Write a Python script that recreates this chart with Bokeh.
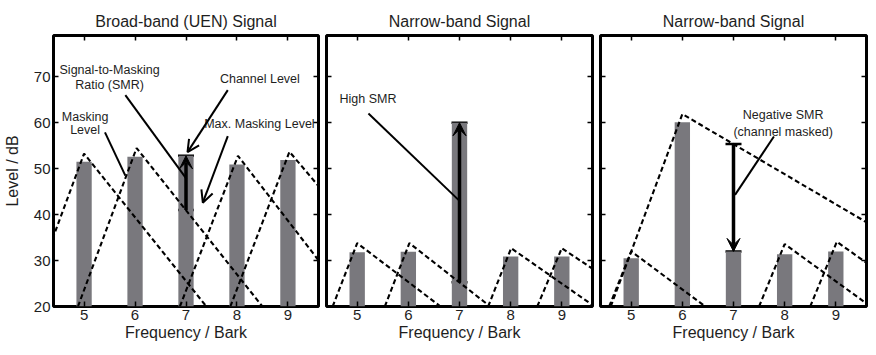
from bokeh.plotting import figure
from bokeh.layouts import row
from bokeh.models import (LinearAxis, FixedTicker, Range1d, ColumnDataSource,
                          Arrow, OpenHead, VeeHead, Whisker, TeeHead)
from bokeh.core.properties import value
from bokeh.embed import file_html
from bokeh.resources import INLINE

FONT = "Liberation Sans"
BAR = "#79787d"
TXT = "#1e1e1e"

# ---------------- data ----------------
channels = [5, 6, 7, 8, 9]
x_ticks = [5, 6, 7, 8, 9]
y_ticks = [20, 30, 40, 50, 60, 70]
titles = ["Broad-band (UEN) Signal", "Narrow-band Signal", "Narrow-band Signal"]

levels_bb = [51.5, 52.6, 52.8, 50.9, 51.9]
levels_nb1 = [31.8, 31.9, 60.0, 30.9, 30.9]
levels_nb2 = [30.5, 60.1, 32.0, 31.4, 32.0]

# masking curves (vertices: start, peak, end) of channels 5, 6, 8, 9
mask_bb_x = [[3.89, 5.0, 7.4], [4.88, 6.03, 8.5], [6.88, 8.02, 10.3], [7.87, 9.03, 11.6]]
mask_bb_y = [[20, 53.3, 20], [20, 54.5, 20], [20, 52.8, 20], [20, 53.7, 20]]
mask_nb1_x = [[4.52, 5.0, 6.63], [5.54, 6.02, 7.6], [7.56, 8.01, 9.64], [8.52, 9.0, 10.7]]
mask_nb1_y = [[20, 33.8, 20], [20, 33.8, 20], [20, 32.7, 20], [20, 32.7, 20]]
mask_nb2_x = [[4.57, 5.0, 6.45], [4.6, 6.0, 12.4], [7.5, 8.0, 9.68], [8.5, 9.02, 10.8]]
mask_nb2_y = [[20, 32.0, 20], [20, 61.9, 20], [20, 33.6, 20], [20, 34.1, 20]]

# SMR arrows at channel 7: (masking level, channel level)
smr_channel = 7
smr_bb = [41.0, 52.8]
smr_nb1 = [25.3, 60.0]
smr_nb2 = [55.4, 32.0]

# annotation texts
text_bb = ["Signal-to-Masking", "Ratio (SMR)", "Masking", "Level", "Channel Level", "Max. Masking Level"]
text_bb_x = [5.50, 5.50, 5.02, 5.02, 8.45, 8.44]
text_bb_y = [71.4, 68.2, 61.3, 58.5, 69.5, 59.8]
text_nb1 = ["High SMR"]
text_nb1_x = [5.21]
text_nb1_y = [65.2]
text_nb2 = ["Negative SMR", "(channel masked)"]
text_nb2_x = [7.97, 7.97]
text_nb2_y = [61.8, 57.9]

# plain pointer lines (x0, y0, x1, y1)
ptr_bb_x0 = [5.81, 5.41]
ptr_bb_y0 = [66.0, 57.9]
ptr_bb_x1 = [7.01, 5.81]
ptr_bb_y1 = [47.8, 48.5]
ptr_nb1_x0 = [5.22]
ptr_nb1_y0 = [62.0]
ptr_nb1_x1 = [6.99]
ptr_nb1_y1 = [43.1]
ptr_nb2_x0 = [7.79]
ptr_nb2_y0 = [57.0]
ptr_nb2_x1 = [7.03]
ptr_nb2_y1 = [44.3]

# open-headed arrows in the broad-band panel
oarr_x0 = [7.82, 7.82]
oarr_y0 = [67.1, 57.1]
oarr_x1 = [7.03, 7.33]
oarr_y1 = [53.6, 42.6]


def style_axis(ax, labels=True):
    ax.axis_line_color = None
    ax.major_tick_in = 5
    ax.major_tick_out = 0
    ax.minor_tick_line_color = None
    ax.major_tick_line_color = "black"
    ax.major_tick_line_width = 1.5
    ax.major_label_text_font = FONT
    if labels:
        ax.major_label_text_font_size = "15px"
        ax.major_label_text_color = TXT
        ax.major_label_standoff = 3
    else:
        ax.major_label_text_font_size = "1px"
        ax.major_label_text_color = None
        ax.major_label_text_alpha = 0
        ax.major_label_standoff = 0
    ax.axis_label_text_font = FONT
    ax.axis_label_text_font_size = "16px"
    ax.axis_label_text_font_style = "normal"
    ax.axis_label_text_color = TXT
    ax.axis_label_standoff = 1


def make_fig(title, width, bl, br, first, levels, mxs, mys, smr, texts, tx, ty,
             px0, py0, px1, py1):
    p = figure(width=width, height=347, x_range=Range1d(4.4, 9.6),
               y_range=Range1d(20, 79), output_backend="svg",
               toolbar_location=None, min_border_left=bl, min_border_right=br,
               min_border_top=35, min_border_bottom=41, title=title,
               x_axis_label="Frequency / Bark")
    p.title.text_font = FONT
    p.title.text_font_size = "16px"
    p.title.text_font_style = "normal"
    p.title.text_color = TXT
    p.title.align = "center"
    p.title.standoff = 12
    p.xgrid.visible = False
    p.ygrid.visible = False
    p.outline_line_color = "black"
    p.outline_line_width = 3
    p.outline_line_alpha = 1
    p.background_fill_color = "white"
    p.border_fill_color = "white"

    xa = p.xaxis[0]
    xa.ticker = FixedTicker(ticks=x_ticks)
    style_axis(xa)
    ya = p.yaxis[0]
    ya.ticker = FixedTicker(ticks=y_ticks)
    if first:
        style_axis(ya)
        ya.axis_label = "Level / dB"
        ya.axis_label_standoff = 10
    else:
        style_axis(ya, labels=False)

    top = LinearAxis(ticker=FixedTicker(ticks=x_ticks))
    style_axis(top, labels=False)
    p.add_layout(top, "above")
    right = LinearAxis(ticker=FixedTicker(ticks=y_ticks))
    style_axis(right, labels=False)
    p.add_layout(right, "right")

    # bars
    p.vbar(x=channels, top=levels, bottom=20, width=0.3,
           fill_color=BAR, line_color=None)
    # masking curves
    p.multi_line(xs=mxs, ys=mys, line_color="black", line_width=2.1,
                 line_dash="5 3")

    # pointer lines
    p.segment(x0=px0, y0=py0, x1=px1, y1=py1, line_color="black", line_width=2)

    # SMR arrow with caps
    ws = ColumnDataSource(data=dict(base=[smr_channel], lower=[min(smr)],
                                    upper=[max(smr)]))
    p.add_layout(Whisker(source=ws, base="base", lower="lower", upper="upper",
                         dimension="height", line_width=2, line_color="black",
                         upper_head=TeeHead(size=16, line_width=2.5, line_color="black"),
                         lower_head=TeeHead(size=16, line_width=2.5, line_color="black")))
    p.add_layout(Arrow(x_start=smr_channel, y_start=smr[0], x_end=smr_channel,
                       y_end=smr[1], line_width=3.5, line_color="black",
                       end=VeeHead(size=13, fill_color="black", line_color="black")))

    # texts
    p.text(x=tx, y=ty, text=texts, text_font=value(FONT),
           text_font_size=value("12.5px"), text_align="center",
           text_baseline="middle", text_color=TXT)
    return p


p1 = make_fig(titles[0], 322, 52, 4, True, levels_bb, mask_bb_x, mask_bb_y,
              smr_bb, text_bb, text_bb_x, text_bb_y,
              ptr_bb_x0, ptr_bb_y0, ptr_bb_x1, ptr_bb_y1)
for i in range(len(oarr_x0)):
    p1.add_layout(Arrow(x_start=oarr_x0[i], y_start=oarr_y0[i], x_end=oarr_x1[i],
                        y_end=oarr_y1[i], line_width=2, line_color="black",
                        end=OpenHead(size=12, line_width=2, line_color="black")))

p2 = make_fig(titles[1], 274, 4, 4, False, levels_nb1, mask_nb1_x, mask_nb1_y,
              smr_nb1, text_nb1, text_nb1_x, text_nb1_y,
              ptr_nb1_x0, ptr_nb1_y0, ptr_nb1_x1, ptr_nb1_y1)
p3 = make_fig(titles[2], 272, 4, 2, False, levels_nb2, mask_nb2_x, mask_nb2_y,
              smr_nb2, text_nb2, text_nb2_x, text_nb2_y,
              ptr_nb2_x0, ptr_nb2_y0, ptr_nb2_x1, ptr_nb2_y1)

layout = row(p1, p2, p3, spacing=0)
open("out.html", "w").write(file_html(layout, INLINE))
